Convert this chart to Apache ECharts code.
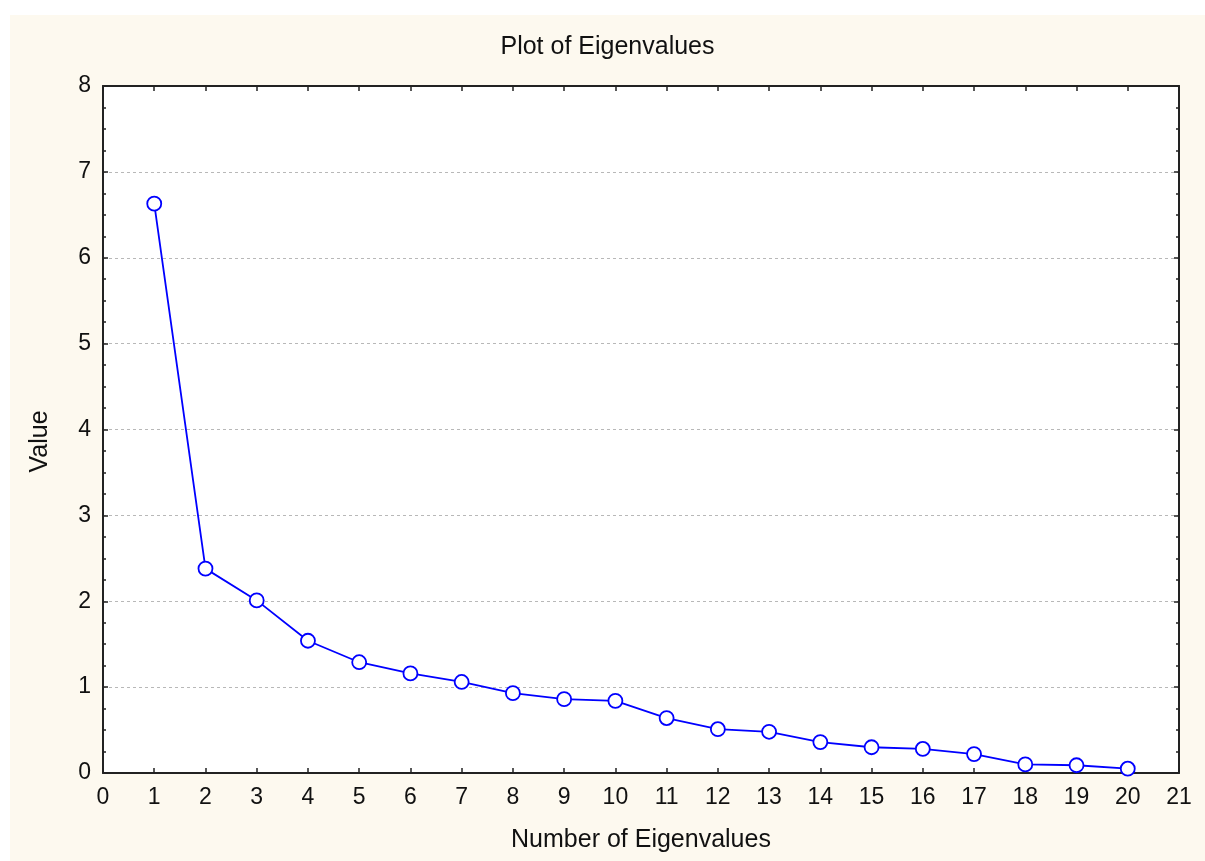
<!DOCTYPE html>
<html>
<head>
<meta charset="utf-8">
<script src="https://cdn.jsdelivr.net/npm/echarts@6/dist/echarts.min.js"></script>
<style>
  html, body { margin: 0; padding: 0; background: #ffffff; }
  #chart {
    position: absolute;
    left: 10px;
    top: 15px;
    width: 1195px;
    height: 846px;
    background: #fdf9ef;
  }
</style>
</head>
<body>
<div id="chart"></div>
<script>
// eigenvalue number (x) and its value (y)
const eigenNumbers = [1, 2, 3, 4, 5, 6, 7, 8, 9, 10, 11, 12, 13, 14, 15, 16, 17, 18, 19, 20];
const eigenValues = [6.63, 2.38, 2.01, 1.54, 1.29, 1.16, 1.06, 0.93, 0.86, 0.84,
                     0.64, 0.51, 0.48, 0.36, 0.30, 0.28, 0.22, 0.10, 0.09, 0.05];

const titleText = 'Plot of Eigenvalues';
const xName = 'Number of Eigenvalues';
const yName = 'Value';

const points = eigenNumbers.map((n, i) => [n, eigenValues[i]]);

const font = 'Liberation Sans, Arial, sans-serif';
const axisColor = '#222222';

const chart = echarts.init(document.getElementById('chart'));

chart.setOption({
  animation: false,
  title: {
    text: titleText,
    left: 'center',
    top: 15,
    textStyle: { fontFamily: font, fontSize: 25, fontWeight: 'normal', color: '#111' }
  },
  grid: {
    left: 93,
    top: 71,
    right: 26,
    bottom: 88,
    show: true,
    backgroundColor: '#ffffff',
    borderWidth: 0
  },
  xAxis: [
    {
      type: 'value',
      min: 0,
      max: 21,
      interval: 1,
      name: xName,
      nameLocation: 'middle',
      nameGap: 55,
      nameTextStyle: { fontFamily: font, fontSize: 25, color: '#111' },
      axisLine: { show: true, onZero: false, lineStyle: { color: axisColor, width: 2 } },
      axisTick: { show: true, inside: true, length: 5, lineStyle: { color: axisColor, width: 1.5 } },
      axisLabel: { fontFamily: font, fontSize: 23, color: '#111', margin: 13 },
      splitLine: { show: false }
    },
    {
      type: 'value',
      position: 'top',
      min: 0,
      max: 21,
      interval: 1,
      axisLine: { show: true, onZero: false, lineStyle: { color: axisColor, width: 2 } },
      axisTick: { show: true, inside: true, length: 5, lineStyle: { color: axisColor, width: 1.5 } },
      axisLabel: { show: false },
      splitLine: { show: false }
    }
  ],
  yAxis: [
    {
      type: 'value',
      min: 0,
      max: 8,
      interval: 1,
      name: yName,
      nameLocation: 'middle',
      nameGap: 50,
      nameRotate: 90,
      nameTextStyle: { fontFamily: font, fontSize: 25, color: '#111', padding: [0, 24, 0, 0] },
      axisLine: { show: true, onZero: false, lineStyle: { color: axisColor, width: 2 } },
      axisTick: { show: true, inside: true, length: 5, lineStyle: { color: axisColor, width: 1.5 } },
      minorTick: { show: true, splitNumber: 4, length: 3, lineStyle: { color: axisColor, width: 1.5 } },
      axisLabel: { fontFamily: font, fontSize: 23, color: '#111', margin: 12 },
      splitLine: { show: true, lineStyle: { color: '#b8b8b8', type: [3, 3], width: 1 } }
    },
    {
      type: 'value',
      position: 'right',
      min: 0,
      max: 8,
      interval: 1,
      axisLine: { show: true, onZero: false, lineStyle: { color: axisColor, width: 2 } },
      axisTick: { show: true, inside: true, length: 5, lineStyle: { color: axisColor, width: 1.5 } },
      minorTick: { show: true, splitNumber: 4, length: 3, lineStyle: { color: axisColor, width: 1.5 } },
      axisLabel: { show: false },
      splitLine: { show: false }
    }
  ],
  series: [
    {
      name: yName,
      type: 'line',
      data: points,
      symbol: 'circle',
      symbolSize: 14,
      showAllSymbol: true,
      lineStyle: { color: '#0000ff', width: 1.8 },
      itemStyle: { color: '#ffffff', borderColor: '#0000ff', borderWidth: 1.8 },
      emphasis: { disabled: true },
      z: 3
    }
  ]
});
</script>
</body>
</html>
